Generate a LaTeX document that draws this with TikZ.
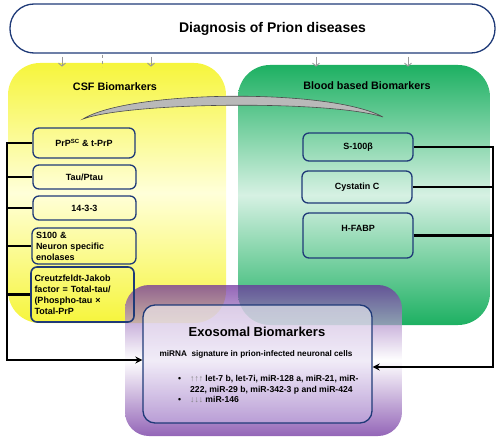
\documentclass[tikz,border=0pt]{standalone}
\usepackage{fontspec}
\setmainfont{Liberation Sans}
\usepackage{xcolor}
\usetikzlibrary{arrows.meta,calc}

\definecolor{navy}{HTML}{1F3A78}
\definecolor{csfyel}{HTML}{F6F53C}
\definecolor{csfpale}{HTML}{FFFFD9}
\definecolor{bldgreen}{HTML}{1DB062}
\definecolor{bldpale}{HTML}{D6F1E3}
\definecolor{exopurple}{HTML}{6A2A9C}
\definecolor{exolav}{HTML}{C9B6E4}

\begin{document}
\begin{tikzpicture}[x=1pt, y=1pt,
  frame/.style={draw=navy, line width=1.3pt, rounded corners=6pt, align=center, inner sep=2pt, font=\bfseries\fontsize{9}{11}\selectfont},
  head/.style={font=\bfseries\fontsize{10.8}{13}\selectfont},
  bar/.style={line width=2.8pt, black},
  tick/.style={gray!80, line width=0.9pt, -{Straight Barb[length=3pt,width=7pt]}}
]
\useasboundingbox (0,0) rectangle (500,-441);

% Title
\node[draw=navy, line width=1.3pt, rounded corners=24pt, minimum width=485pt, minimum height=49pt,
      label={[xshift=20pt, font=\bfseries\fontsize{14}{16}\selectfont]center:Diagnosis of Prion diseases}] (diag) at (252.5,-28.5) {};

% Biomarker panels
\node[rounded corners=32pt, minimum width=218pt, minimum height=260pt,
      top color=csfyel, bottom color=csfyel, middle color=csfpale] (csf) at (117,-193) {};
\node[rounded corners=32pt, minimum width=252pt, minimum height=260pt,
      top color=bldgreen, bottom color=bldgreen, middle color=bldpale] (blood) at (364,-195) {};
\node[head] (csfhead) at (115,-87) {CSF Biomarkers};
\node[head] (bloodhead) at (367,-86) {Blood based Biomarkers};

% Small arrows under the title
\foreach \x in {62,151,316,408}
  \draw[tick] ([yshift=-3pt]diag.south -| \x,0) -- ++(0,-10);
\draw[gray!80, line width=0.9pt, dashed] ([yshift=-1pt]diag.south -| 102,0) -- ++(0,-12);

% Bridge between the panels
\filldraw[fill=gray!55, draw=black!70, line width=0.6pt]
  (83,-119) .. controls (130,-90) and (330,-88) .. (383,-117)
  .. controls (330,-100) and (130,-102) .. (83,-119) -- cycle;

% Exosomal panel
\node[rounded corners=24pt, minimum width=277pt, minimum height=151pt, fill opacity=0.72,
      top color=exopurple, bottom color=exopurple, middle color=white] (exo) at (263.5,-360.5) {};
\node[draw=navy, line width=1.3pt, rounded corners=12pt, minimum width=229pt, minimum height=118pt,
      fill opacity=0.55, top color=white, bottom color=exolav] (inner) at (257.5,-364) {};
\node[font=\bfseries\fontsize{13}{15}\selectfont] (exohead) at (257,-332) {Exosomal Biomarkers};
\node[font=\bfseries\fontsize{8.2}{9}\selectfont] (mirhead) at (256,-354) {miRNA\ \ signature in prion-infected neuronal cells};
\node[anchor=west, align=left, inner sep=0pt, font=\bfseries\fontsize{8.6}{10.5}\selectfont] (mirlist) at (178,-389.5)
  {\makebox[12pt][l]{•}{\color{gray}↑↑↑} let-7 b, let-7i, miR-128 a, miR-21, miR-\\
   \hspace*{12pt}222, miR-29 b, miR-342-3 p and miR-424\\
   \makebox[12pt][l]{•}{\color{gray}↓↓↓} miR-146};

% CSF markers
\node[frame, minimum width=102pt, minimum height=30pt] (prp) at (84,-143) {PrP\textsuperscript{SC} \& t-PrP};
\node[frame, minimum width=103pt, minimum height=24pt] (tau) at (84.5,-177) {Tau/Ptau};
\node[frame, minimum width=103pt, minimum height=24pt] (fourteen) at (84.5,-208) {14-3-3};
\node[frame, minimum width=104pt, minimum height=36pt, text width=96pt, align=left] (s100) at (84,-246) {S100 \&\\Neuron specific\\enolases};
\node[frame, line width=1.6pt, minimum width=103pt, minimum height=55pt, text width=96pt, align=left] (cjd) at (82.5,-294.5)
  {Creutzfeldt-Jakob\\factor = Total-tau/\\(Phospho-tau ×\\Total-PrP};

% Blood markers
\node[frame, minimum width=110pt, minimum height=28pt] (s100b) at (358,-147) {S-100β};
\node[frame, minimum width=110pt, minimum height=32pt] (cysc) at (357,-187) {Cystatin C};
\node[frame, minimum width=110pt, minimum height=45pt] (hfabp) at (358,-235.5) {H-FABP\\\strut};

% Brackets into the exosomal box
\coordinate (lfoot) at (7,-360);
\coordinate (rfoot) at (493,-367);
\draw[bar, -{Stealth[length=7pt,width=7pt]}] (prp.west) -| (lfoot) -- (lfoot -| inner.west);
\foreach \b in {tau,fourteen,s100,cjd}
  \draw[bar] (\b.west) -- (\b.west -| lfoot);
\draw[bar, -{Stealth[length=7pt,width=7pt]}] (s100b.east) -| (rfoot) -- (rfoot -| inner.east);
\foreach \b in {cysc,hfabp}
  \draw[bar] (\b.east) -- (\b.east -| rfoot);

\end{tikzpicture}
\end{document}
